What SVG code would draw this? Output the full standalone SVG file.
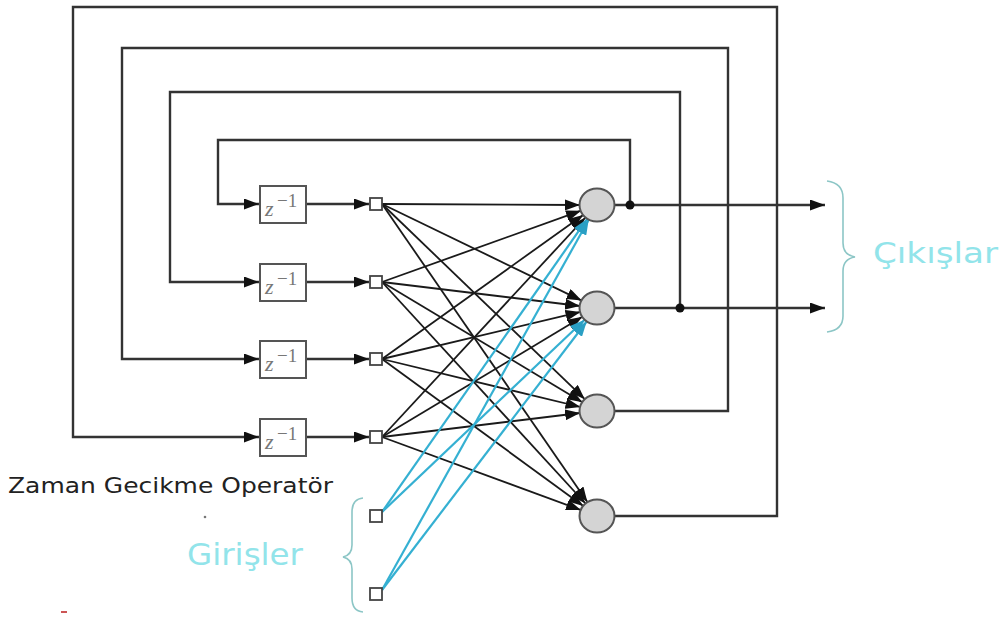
<svg xmlns="http://www.w3.org/2000/svg" width="1004" height="621" viewBox="0 0 1004 621">
<style>
.loop{fill:none;stroke:#333;stroke-width:2.4}
.w{fill:none;stroke:#1a1a1a;stroke-width:1.8}
.c{fill:none;stroke:#35b0d2;stroke-width:2.2}
.box{fill:#fff;stroke:#555;stroke-width:2}
.sq{fill:#fff;stroke:#444;stroke-width:1.8}
.neu{fill:#d4d4d4;stroke:#555;stroke-width:2}
.z{font-family:"Liberation Serif",serif;font-style:italic;font-size:22px;fill:#777}
.zs{font-style:normal;font-size:19px;fill:#777}
.brace{fill:none;stroke:#8cc6c6;stroke-width:1.6}
.lbl{font-family:"DejaVu Sans","Liberation Sans",sans-serif;fill:#92e4ea}
</style>
<defs>
<marker id="ah" viewBox="0 0 15 11" refX="15" refY="5.5" markerWidth="15" markerHeight="11" markerUnits="userSpaceOnUse" orient="auto"><path d="M0,0 L15,5.5 L0,11 z" fill="#111"/></marker>
<marker id="ahc" viewBox="0 0 15 11" refX="15" refY="5.5" markerWidth="15" markerHeight="11" markerUnits="userSpaceOnUse" orient="auto"><path d="M0,0 L15,5.5 L0,11 z" fill="#2a9fc4"/></marker>
</defs>
<rect width="1004" height="621" fill="#fff"/>
<g id="connectors">
<path class="loop" d="M614,516 H777 V7 H73 V437 H259" marker-end="url(#ah)"/>
<path class="loop" d="M614,411 H728 V48 H122 V359 H259" marker-end="url(#ah)"/>
<path class="loop" d="M680,308 V92 H170 V282 H259" marker-end="url(#ah)"/>
<path class="loop" d="M630,205 V140 H218 V204 H259" marker-end="url(#ah)"/>
<path class="loop" d="M614,205 H825" marker-end="url(#ah)"/>
<path class="loop" d="M614,308 H825" marker-end="url(#ah)"/>
<circle cx="630" cy="205" r="4.5" fill="#111"/>
<circle cx="680" cy="308" r="4.5" fill="#111"/>
<path class="loop" d="M306,204 H369" marker-end="url(#ah)"/>
<path class="loop" d="M306,282 H369" marker-end="url(#ah)"/>
<path class="loop" d="M306,359 H369" marker-end="url(#ah)"/>
<path class="loop" d="M306,437 H369" marker-end="url(#ah)"/>
<g marker-end="url(#ah)">
<path class="w" d="M382,204 L580,205"/>
<path class="w" d="M382,204 L581.7,300.6"/>
<path class="w" d="M382,204 L584.8,399.2"/>
<path class="w" d="M382,204 L587.4,502"/>
<path class="w" d="M382,282 L581,210.7"/>
<path class="w" d="M382,282 L580.1,306"/>
<path class="w" d="M382,282 L582.4,402.2"/>
<path class="w" d="M382,282 L585.5,503.5"/>
<path class="w" d="M382,359 L583.2,214.9"/>
<path class="w" d="M382,359 L580.5,311.9"/>
<path class="w" d="M382,359 L580.5,407"/>
<path class="w" d="M382,359 L583.3,506"/>
<path class="w" d="M382,437 L585.4,217.5"/>
<path class="w" d="M382,437 L582.4,316.8"/>
<path class="w" d="M382,437 L580.1,413"/>
<path class="w" d="M382,437 L581,510.1"/>
</g>
<g marker-end="url(#ahc)">
<path class="c" d="M382,512 L587.2,218.9"/>
<path class="c" d="M382,512 L584.7,319.7"/>
<path class="c" d="M382,590 L588.7,219.8"/>
<path class="c" d="M382,590 L586.7,321.5"/>
</g>
</g>
<g id="delay1"><rect class="box" x="260" y="186" width="46" height="37"/><text class="z" x="265" y="216">z<tspan class="zs" x="277" y="207">−1</tspan></text></g>
<g id="delay2"><rect class="box" x="260" y="264" width="46" height="37"/><text class="z" x="265" y="294">z<tspan class="zs" x="277" y="285">−1</tspan></text></g>
<g id="delay3"><rect class="box" x="260" y="341" width="46" height="37"/><text class="z" x="265" y="371">z<tspan class="zs" x="277" y="362">−1</tspan></text></g>
<g id="delay4"><rect class="box" x="260" y="419" width="46" height="37"/><text class="z" x="265" y="449">z<tspan class="zs" x="277" y="440">−1</tspan></text></g>
<g id="node1"><rect class="sq" x="370" y="198" width="12" height="12"/></g>
<g id="node2"><rect class="sq" x="370" y="276" width="12" height="12"/></g>
<g id="node3"><rect class="sq" x="370" y="353" width="12" height="12"/></g>
<g id="node4"><rect class="sq" x="370" y="431" width="12" height="12"/></g>
<g id="input1"><rect class="sq" x="370" y="510" width="12" height="12"/></g>
<g id="input2"><rect class="sq" x="370" y="588" width="12" height="12"/></g>
<g id="neuron1"><ellipse class="neu" cx="597" cy="205" rx="17.5" ry="16.5"/></g>
<g id="neuron2"><ellipse class="neu" cx="597" cy="308" rx="17.5" ry="16.5"/></g>
<g id="neuron3"><ellipse class="neu" cx="597" cy="411" rx="17.5" ry="16.5"/></g>
<g id="neuron4"><ellipse class="neu" cx="597" cy="516" rx="17.5" ry="16.5"/></g>
<g id="outputs-label">
<path class="brace" d="M827,181 Q843,183 843,198 V243 Q843,255 855,257 Q843,259 843,271 V316 Q843,330 827,332"/>
<text class="lbl" x="873" y="263" font-size="29" textLength="125" lengthAdjust="spacingAndGlyphs">Çıkışlar</text>
</g>
<g id="inputs-label">
<path class="brace" d="M363,498 Q352,499 352,512 V545 Q352,555 343,557 Q352,559 352,569 V598 Q352,611 363,612"/>
<text class="lbl" x="187" y="565" font-size="30" textLength="116" lengthAdjust="spacingAndGlyphs">Girişler</text>
</g>
<g id="delay-label">
<text x="8" y="493" font-family="DejaVu Sans,Liberation Sans,sans-serif" font-size="21" fill="#222" textLength="325" lengthAdjust="spacingAndGlyphs">Zaman Gecikme Operatör</text>
</g>
<circle cx="205" cy="517" r="1.3" fill="#777"/>
<line x1="61" y1="612" x2="67" y2="612" stroke="#c55" stroke-width="2"/>
</svg>
